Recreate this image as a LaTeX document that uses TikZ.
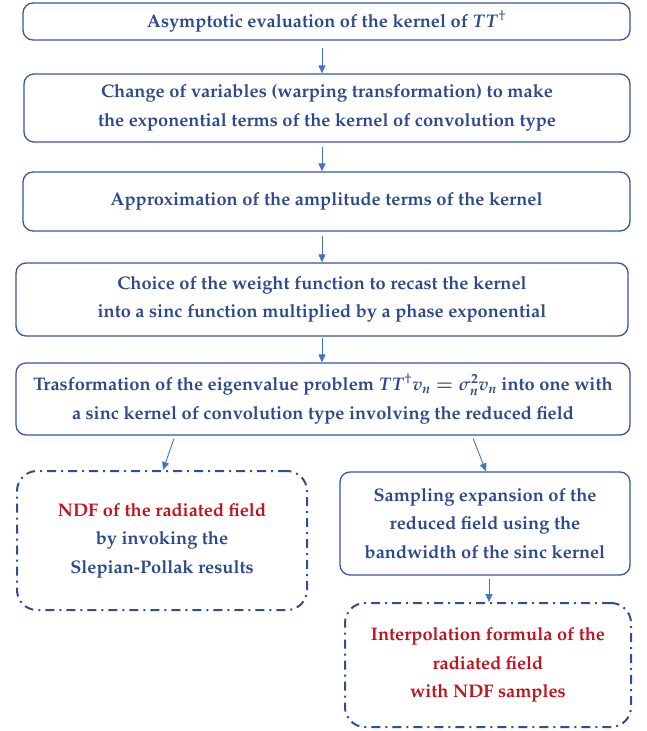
\documentclass[tikz,border=0pt]{standalone}
\usepackage[T1]{fontenc}
\usepackage{mathpazo}
\usetikzlibrary{arrows.meta}
\definecolor{txtblue}{HTML}{2E4A8C}
\definecolor{boxblue}{HTML}{3556A0}
\definecolor{dashblue}{HTML}{2F4F8F}
\definecolor{arrblue}{HTML}{4472C4}
\definecolor{txtred}{HTML}{C0141E}
\tikzset{
  solidbox/.style={draw=boxblue, line width=1.3pt, rounded corners=10pt, align=center,
    text=txtblue, font=\fontsize{18.2}{28.5}\selectfont\bfseries, inner sep=0pt},
  dashbox/.style={draw=dashblue, line width=2pt, rounded corners=20pt, align=center,
    dash pattern=on 9pt off 5pt on 2pt off 5pt,
    text=txtblue, font=\fontsize{18.2}{28.5}\selectfont\bfseries, inner sep=0pt},
  arr/.style={draw=arrblue, line width=0.9pt, -{Triangle[length=8pt,width=7pt]}, arrblue},
}
\begin{document}
\begin{tikzpicture}[x=1pt,y=-1pt]
\useasboundingbox (0,0) rectangle (647,731);
\node[solidbox, minimum width=607pt, minimum height=37pt] (b1) at (326.5,21.5)
  {Asymptotic evaluation of the kernel of {\boldmath$TT$}$^{\dagger}$};
\node[solidbox, minimum width=606pt, minimum height=68pt] (b2) at (327,108)
  {Change of variables (warping transformation) to make\\the exponential terms of the kernel of convolution type};
\node[solidbox, minimum width=607pt, minimum height=59pt] (b3) at (326.5,201.5)
  {Approximation of the amplitude terms of the kernel};
\node[solidbox, minimum width=612pt, minimum height=73pt] (b4) at (322,299.5)
  {Choice of the weight function to recast the kernel\\into a sinc function multiplied by a phase exponential};
\node[solidbox, minimum width=614pt, minimum height=72pt] (b5) at (323,399)
  {Trasformation of the eigenvalue problem {\boldmath$TT$}$^{\dagger}${\boldmath$v_n=\sigma_n^2v_n$} into one with\\a sinc kernel of convolution type involving the reduced field};
\node[dashbox, minimum width=290pt, minimum height=139pt] (ndf) at (162,540.5)
  {\textcolor{txtred}{NDF of the radiated field}\\by invoking the\\Slepian-Pollak results};
\node[solidbox, minimum width=290pt, minimum height=103pt] (samp) at (485,523.5)
  {Sampling expansion of the\\reduced field using the\\bandwidth of the sinc kernel};
\node[dashbox, minimum width=286pt, minimum height=124pt, text=txtred] (interp) at (488,665)
  {Interpolation formula of the\\radiated field\\with NDF samples};
\coordinate (cx) at (322,0);
\coordinate (sx) at (489,0);
\coordinate (l1) at (175,0);
\coordinate (l2) at (163,0);
\coordinate (r1) at (472,0);
\coordinate (r2) at (486,0);
\draw[arr, shorten <=7pt] (b1.south -| cx) -- (b2.north -| cx);
\draw[arr, shorten <=4pt] (b2.south -| cx) -- (b3.north -| cx);
\draw[arr, shorten <=4pt] (b3.south -| cx) -- (b4.north -| cx);
\draw[arr, shorten <=1pt] (b4.south -| cx) -- (b5.north -| cx);
\draw[arr, shorten <=3pt] (b5.south -| l1) -- (ndf.north -| l2);
\draw[arr, shorten <=3pt] (b5.south -| r1) -- (samp.north -| r2);
\draw[arr, shorten <=3pt] (samp.south -| sx) -- (interp.north -| sx);
\end{tikzpicture}
\end{document}
